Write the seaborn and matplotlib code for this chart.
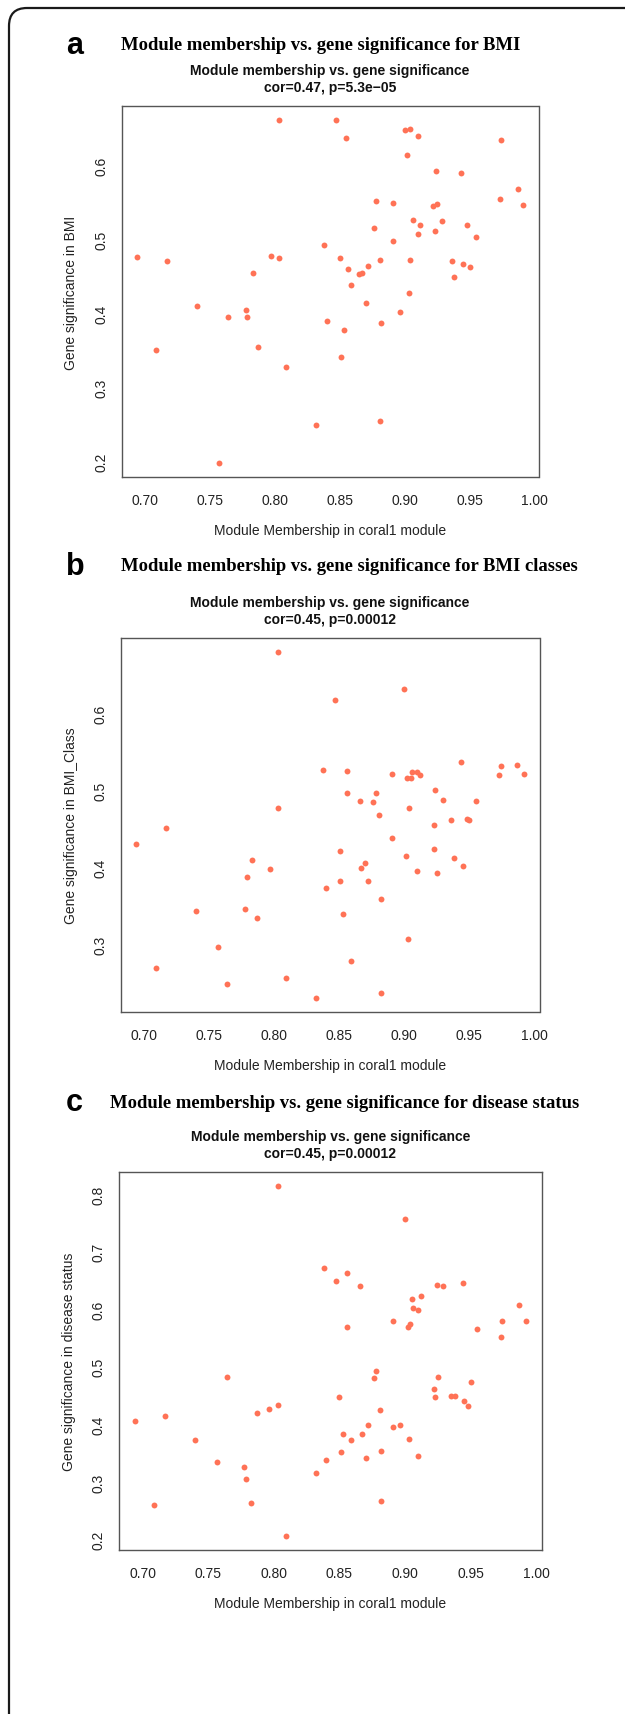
import numpy as np
import pandas as pd
import matplotlib
matplotlib.use("Agg")
import matplotlib.pyplot as plt
from matplotlib.patches import FancyBboxPatch
from matplotlib.transforms import IdentityTransform
import seaborn as sns

# Panel a: module membership vs gene significance for BMI
bmi_mm = [0.803, 0.847, 0.855, 0.900, 0.904, 0.910, 0.902, 0.974, 0.924, 0.943,
          0.987, 0.973, 0.991, 0.878, 0.891, 0.922, 0.925, 0.906, 0.912, 0.929,
          0.948, 0.876, 0.923, 0.910, 0.955, 0.891, 0.838, 0.694, 0.717, 0.797,
          0.803, 0.850, 0.881, 0.904, 0.936, 0.945, 0.950, 0.856, 0.872, 0.865,
          0.867, 0.783, 0.938, 0.859, 0.903, 0.740, 0.870, 0.778, 0.896, 0.764,
          0.779, 0.840, 0.882, 0.853, 0.709, 0.787, 0.809, 0.851, 0.832, 0.881,
          0.757]
bmi_gs = [0.662, 0.662, 0.638, 0.648, 0.650, 0.640, 0.615, 0.635, 0.593, 0.590,
          0.568, 0.555, 0.547, 0.552, 0.550, 0.546, 0.548, 0.526, 0.520, 0.525,
          0.520, 0.516, 0.512, 0.507, 0.504, 0.498, 0.493, 0.477, 0.471, 0.478,
          0.475, 0.475, 0.472, 0.473, 0.471, 0.467, 0.463, 0.461, 0.464, 0.454,
          0.455, 0.455, 0.449, 0.439, 0.428, 0.410, 0.414, 0.405, 0.402, 0.395,
          0.395, 0.390, 0.387, 0.378, 0.351, 0.355, 0.328, 0.341, 0.250, 0.255,
          0.198]

# Panel b: BMI classes
cls_mm = [0.803, 0.900, 0.847, 0.838, 0.856, 0.891, 0.944, 0.974, 0.987, 0.973,
          0.992, 0.906, 0.910, 0.912, 0.902, 0.905, 0.924, 0.878, 0.856, 0.866,
          0.876, 0.930, 0.955, 0.803, 0.904, 0.881, 0.936, 0.948, 0.950, 0.717,
          0.923, 0.891, 0.694, 0.851, 0.923, 0.901, 0.938, 0.783, 0.870, 0.867,
          0.797, 0.945, 0.910, 0.925, 0.779, 0.851, 0.872, 0.840, 0.882, 0.740,
          0.778, 0.787, 0.853, 0.903, 0.757, 0.859, 0.709, 0.809, 0.764, 0.882,
          0.832]
cls_gs = [0.679, 0.631, 0.617, 0.526, 0.525, 0.521, 0.537, 0.531, 0.532, 0.520,
          0.521, 0.523, 0.523, 0.520, 0.516, 0.516, 0.500, 0.497, 0.496, 0.486,
          0.485, 0.487, 0.486, 0.477, 0.477, 0.468, 0.462, 0.463, 0.462, 0.451,
          0.455, 0.438, 0.431, 0.422, 0.424, 0.415, 0.412, 0.410, 0.406, 0.400,
          0.398, 0.402, 0.396, 0.393, 0.388, 0.382, 0.382, 0.373, 0.359, 0.344,
          0.346, 0.335, 0.340, 0.307, 0.297, 0.279, 0.270, 0.257, 0.249, 0.238,
          0.231]

# Panel c: disease status
dis_mm = [0.803, 0.900, 0.838, 0.847, 0.856, 0.866, 0.924, 0.929, 0.944, 0.905,
          0.912, 0.906, 0.910, 0.987, 0.891, 0.856, 0.902, 0.904, 0.955, 0.974,
          0.992, 0.973, 0.764, 0.878, 0.876, 0.925, 0.922, 0.923, 0.950, 0.850,
          0.935, 0.938, 0.945, 0.948, 0.803, 0.796, 0.881, 0.787, 0.694, 0.717,
          0.872, 0.896, 0.891, 0.853, 0.867, 0.859, 0.903, 0.740, 0.851, 0.882,
          0.870, 0.910, 0.840, 0.757, 0.777, 0.779, 0.832, 0.709, 0.783, 0.882,
          0.809]
dis_gs = [0.814, 0.757, 0.672, 0.649, 0.663, 0.641, 0.642, 0.640, 0.645, 0.618,
          0.623, 0.602, 0.598, 0.608, 0.580, 0.569, 0.569, 0.575, 0.566, 0.580,
          0.579, 0.552, 0.482, 0.492, 0.480, 0.483, 0.461, 0.447, 0.473, 0.448,
          0.449, 0.449, 0.440, 0.432, 0.434, 0.426, 0.425, 0.419, 0.406, 0.414,
          0.399, 0.399, 0.396, 0.383, 0.383, 0.373, 0.374, 0.372, 0.352, 0.354,
          0.341, 0.345, 0.338, 0.334, 0.325, 0.305, 0.316, 0.260, 0.264, 0.267,
          0.206]

x_ticks = [0.70, 0.75, 0.80, 0.85, 0.90, 0.95, 1.00]
yticks_bmi = [0.2, 0.3, 0.4, 0.5, 0.6]
yticks_cls = [0.3, 0.4, 0.5, 0.6]
yticks_dis = [0.2, 0.3, 0.4, 0.5, 0.6, 0.7, 0.8]

sns.set_style("white")
plt.rcParams['font.family'] = ['Liberation Sans', 'DejaVu Sans']

W, H = 625, 1715
fig = plt.figure(figsize=(W / 100, H / 100), dpi=100)

# outer rounded frame of the figure (right and bottom run off the page)
frame = FancyBboxPatch((9, -60), 900, H - 9 + 60,
                       boxstyle="round,pad=0,rounding_size=18",
                       transform=IdentityTransform(), fill=False,
                       lw=1.6, ec='#1a1a1a')
fig.patches.append(frame)

panels = [
    dict(letter='a', title='Module membership vs. gene significance for BMI',
         tx=121, ty=46, stats='cor=0.47, p=5.3e\u221205',
         ylabel='Gene significance in BMI', box=(121.5, 107, 538.5, 478),
         mm=bmi_mm, gs=bmi_gs, yticks=yticks_bmi),
    dict(letter='b', title='Module membership vs. gene significance for BMI classes',
         tx=121, ty=567, stats='cor=0.45, p=0.00012',
         ylabel='Gene significance in BMI_Class', box=(120.5, 639, 539.5, 1013),
         mm=cls_mm, gs=cls_gs, yticks=yticks_cls),
    dict(letter='c', title='Module membership vs. gene significance for disease status',
         tx=110, ty=1103, stats='cor=0.45, p=0.00012',
         ylabel='Gene significance in disease status', box=(119, 1173, 541.5, 1551),
         mm=dis_mm, gs=dis_gs, yticks=yticks_dis),
]

coral1 = '#FF7256'
for p in panels:
    l, t, r, b = p['box']
    ax = fig.add_axes([l / W, 1 - b / H, (r - l) / W, (b - t) / H])
    df = pd.DataFrame({'mm': p['mm'], 'gs': p['gs']})
    sns.scatterplot(data=df, x='mm', y='gs', ax=ax, color=coral1, s=18,
                    linewidth=0, legend=False)

    # R style 4% padding
    xr = max(df['mm']) - min(df['mm'])
    yr = max(df['gs']) - min(df['gs'])
    ax.set_xlim(min(df['mm']) - 0.04 * xr, max(df['mm']) + 0.04 * xr)
    ax.set_ylim(min(df['gs']) - 0.04 * yr, max(df['gs']) + 0.04 * yr)

    ax.set_xticks(x_ticks)
    ax.set_xticklabels([f'{v:.2f}' for v in x_ticks])
    ax.set_yticks(p['yticks'])
    ax.set_yticklabels([f'{v:.1f}' for v in p['yticks']])
    plt.setp(ax.get_yticklabels(), rotation=90, va='center')
    ax.tick_params(axis='both', direction='out', length=4.5, width=0.8,
                   color='#555555', labelcolor='#222222', labelsize=10)
    ax.tick_params(axis='x', pad=7)
    ax.tick_params(axis='y', pad=5)
    for sp in ax.spines.values():
        sp.set_visible(True)
        sp.set_color('#555555')
        sp.set_linewidth(1.0)

    ax.set_xlabel('Module Membership in coral1 module', fontsize=10, color='#222222')
    ax.set_ylabel(p['ylabel'], fontsize=10, color='#222222')
    ax.xaxis.set_label_coords(0.5, -46 / (b - t))
    ax.yaxis.set_label_coords(-43 / (r - l), 0.5)

    ax.set_title('Module membership vs. gene significance\n' + p['stats'],
                 fontsize=10, fontweight='bold', color='#111111',
                 linespacing=1.25, pad=11)

    fig.text(66 / W, 1 - p['ty'] / H, p['letter'], fontsize=22, fontweight='bold',
             va='center', ha='left', color='black')
    fig.text(p['tx'] / W, 1 - p['ty'] / H, p['title'], fontsize=13.4,
             fontweight='bold', family='Liberation Serif', va='center', ha='left',
             color='black')

fig.savefig('out.png', dpi=100, facecolor='white')
